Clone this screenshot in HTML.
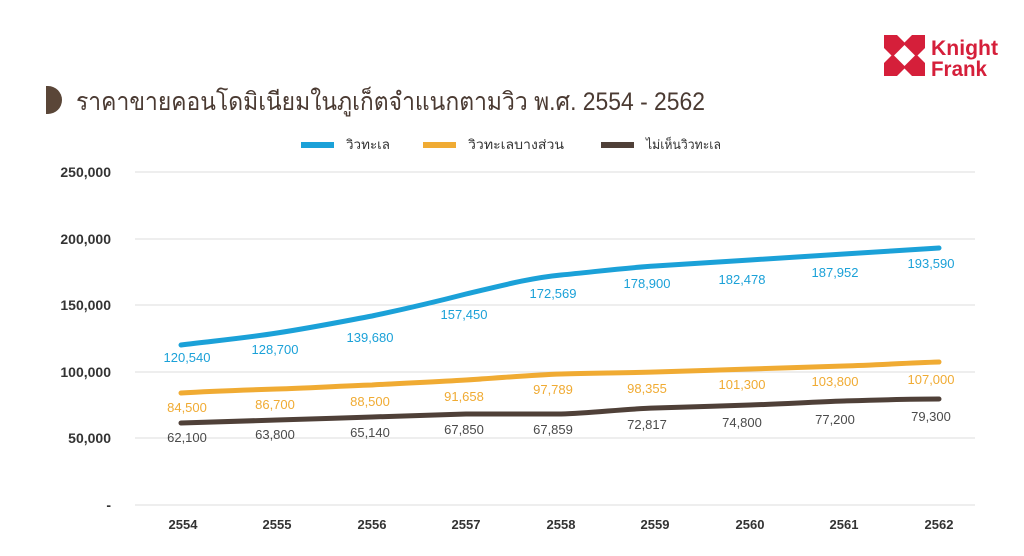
<!DOCTYPE html>
<html><head><meta charset="utf-8"><style>
html,body{margin:0;padding:0;background:#fff;}
svg{display:block;font-family:"Liberation Sans",sans-serif;}
</style></head><body>
<svg width="1024" height="556" viewBox="0 0 1024 556" xmlns="http://www.w3.org/2000/svg">
<rect width="1024" height="556" fill="#fff"/>
<!-- logo -->
<rect x="884" y="35" width="41" height="41" fill="#d51f3a"/>
<polygon points="904.5,45 915,55.5 904.5,66 894,55.5" fill="#fff"/>
<polygon points="897,35 912,35 904.5,42.5" fill="#fff"/>
<polygon points="897,76 912,76 904.5,68.5" fill="#fff"/>
<polygon points="884,48 884,63 891.5,55.5" fill="#fff"/>
<polygon points="925,48 925,63 917.5,55.5" fill="#fff"/>
<text x="931" y="55" font-size="21" font-weight="bold" fill="#d51f3a" textLength="67" lengthAdjust="spacingAndGlyphs">Knight</text>
<text x="931" y="76" font-size="21" font-weight="bold" fill="#d51f3a" textLength="56" lengthAdjust="spacingAndGlyphs">Frank</text>
<!-- title -->
<path d="M46,86 L48,86 A14,14 0 0 1 48,114 L46,114 Z" fill="#5a4638"/>
<text x="76" y="110" font-size="25" fill="#4a3a32" textLength="629" lengthAdjust="spacingAndGlyphs">ราคาขายคอนโดมิเนียมในภูเก็ตจำแนกตามวิว พ.ศ. 2554 - 2562</text>
<!-- legend -->
<rect x="301" y="142" width="33" height="6" fill="#1ba1d8"/>
<text x="346" y="149" font-size="13" fill="#333" textLength="44" lengthAdjust="spacingAndGlyphs">วิวทะเล</text>
<rect x="423" y="142" width="33" height="6" fill="#f0ab33"/>
<text x="468" y="149" font-size="13" fill="#333" textLength="96" lengthAdjust="spacingAndGlyphs">วิวทะเลบางส่วน</text>
<rect x="601" y="142" width="33" height="6" fill="#4f4038"/>
<text x="646" y="149" font-size="13" fill="#333" textLength="75" lengthAdjust="spacingAndGlyphs">ไม่เห็นวิวทะเล</text>
<!-- grid -->
<g stroke="#dcdcdc" stroke-width="1">
<line x1="135" y1="172" x2="975" y2="172"/>
<line x1="135" y1="239" x2="975" y2="239"/>
<line x1="135" y1="305" x2="975" y2="305"/>
<line x1="135" y1="372" x2="975" y2="372"/>
<line x1="135" y1="438" x2="975" y2="438"/>
<line x1="135" y1="505" x2="975" y2="505"/>
</g>
<g font-size="14" font-weight="bold" fill="#333" text-anchor="end">
<text x="111" y="177">250,000</text>
<text x="111" y="244">200,000</text>
<text x="111" y="310">150,000</text>
<text x="111" y="377">100,000</text>
<text x="111" y="443">50,000</text>
<text x="111" y="510">-</text>
</g>
<g font-size="13" font-weight="bold" fill="#333" text-anchor="middle">
<text x="183" y="529">2554</text><text x="277" y="529">2555</text><text x="372" y="529">2556</text>
<text x="466" y="529">2557</text><text x="561" y="529">2558</text><text x="655" y="529">2559</text>
<text x="750" y="529">2560</text><text x="844" y="529">2561</text><text x="939" y="529">2562</text>
</g>
<!-- series -->
<g fill="none" stroke-width="5" stroke-linecap="round" stroke-linejoin="round">
<path stroke="#1ba1d8" d="M181,345 C213,341 245,338 277,333 C310,328 340,322 372,316 C405,309 435,302 466,294 C500,286 530,278 561,275 C593,272 623,268 655,266 C688,264 718,262 750,260 C782,258 813,256 844,254 C876,252 907,250 939,248"/>
<path stroke="#f0ab33" d="M181,393 C213,391 245,390 277,389 C310,388 340,386 372,385 C405,383 435,382 466,380 C500,378 530,375 561,374 C593,373 623,373 655,372 C688,371 718,370 750,369 C782,368 813,367 844,366 C876,365 907,363 939,362"/>
<path stroke="#4f4038" d="M181,423 C213,422 245,421 277,420 C310,419 340,418 372,417 C405,416 435,415 466,414 C500,414 530,414 561,414 C593,413 623,409 655,408 C688,407 718,406 750,405 C782,404 813,402 844,401 C876,400 907,399 939,399"/>
</g>
<g font-size="13" fill="#1ba1d8" text-anchor="middle">
<text x="187" y="362">120,540</text><text x="275" y="354">128,700</text><text x="370" y="342">139,680</text>
<text x="464" y="319">157,450</text><text x="553" y="298">172,569</text><text x="647" y="288">178,900</text>
<text x="742" y="284">182,478</text><text x="835" y="277">187,952</text><text x="931" y="268">193,590</text>
</g>
<g font-size="13" fill="#f0ab33" text-anchor="middle">
<text x="187" y="412">84,500</text><text x="275" y="409">86,700</text><text x="370" y="406">88,500</text>
<text x="464" y="401">91,658</text><text x="553" y="394">97,789</text><text x="647" y="393">98,355</text>
<text x="742" y="389">101,300</text><text x="835" y="386">103,800</text><text x="931" y="384">107,000</text>
</g>
<g font-size="13" fill="#4a4a4a" text-anchor="middle">
<text x="187" y="442">62,100</text><text x="275" y="439">63,800</text><text x="370" y="437">65,140</text>
<text x="464" y="434">67,850</text><text x="553" y="434">67,859</text><text x="647" y="429">72,817</text>
<text x="742" y="427">74,800</text><text x="835" y="424">77,200</text><text x="931" y="421">79,300</text>
</g>
</svg>
</body></html>
